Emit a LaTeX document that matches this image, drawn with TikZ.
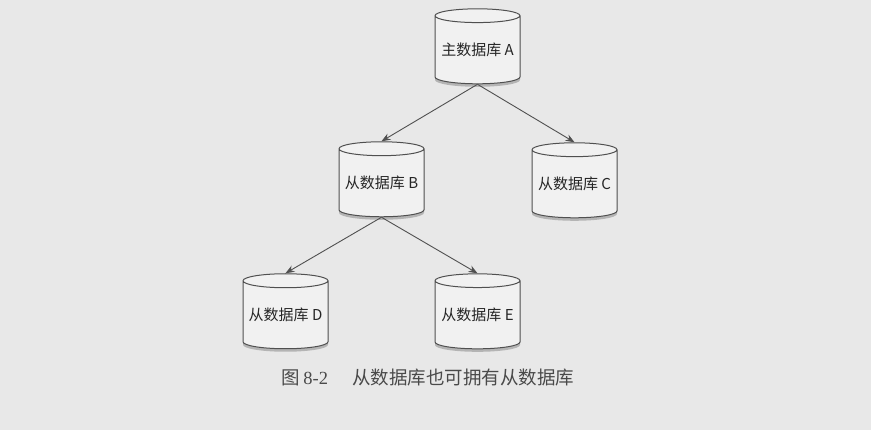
\documentclass[tikz,border=0pt]{standalone}
\usepackage{fontspec}
\newfontfamily\cjk{Noto Sans CJK SC}
\newfontfamily\serifnum{Liberation Serif}
\usetikzlibrary{shapes.geometric,arrows.meta,shadows}
\definecolor{pagebg}{HTML}{E8E8E8}
\definecolor{dbfill}{HTML}{F1F1F1}
\definecolor{dbline}{HTML}{505050}
\definecolor{captxt}{HTML}{4A4A4A}
\tikzset{
  db/.style={cylinder, shape border rotate=90, aspect=0.19, draw=dbline, line width=1pt,
    fill=dbfill, minimum width=85pt, minimum height=75pt, inner sep=0pt,
    font=\cjk\fontsize{15}{17}\selectfont, text=black!85,
    drop shadow={shadow xshift=0pt, shadow yshift=-3pt, opacity=0.4, fill=black!60}},
  link/.style={draw=dbline, line width=0.9pt, -{Stealth[length=9pt,width=7pt]}}
}
\begin{document}
\begin{tikzpicture}[x=1pt,y=-1pt]
\fill[pagebg] (0,0) rectangle (871,430);
\useasboundingbox (0,0) rectangle (871,430);
\node[db] (A) at (477.5,50) {主数据库 A};
\node[db] (B) at (381.5,183) {从数据库 B};
\node[db] (C) at (574.5,184) {从数据库 C};
\node[db] (D) at (285.5,315) {从数据库 D};
\node[db] (E) at (477.5,315) {从数据库 E};
\draw[link] (A.south) -- (B.north);
\draw[link] (A.south) -- (C.north);
\draw[link] (B.south) -- (D.north);
\draw[link] (B.south) -- (E.north);
\node[text=captxt, font=\fontsize{18.5}{20}\selectfont, inner sep=0pt] (cap) at (428,378)
  {{\cjk 图}\,{\serifnum 8-2}\hspace{1.3em}{\cjk 从数据库也可拥有从数据库}};
\end{tikzpicture}
\end{document}
